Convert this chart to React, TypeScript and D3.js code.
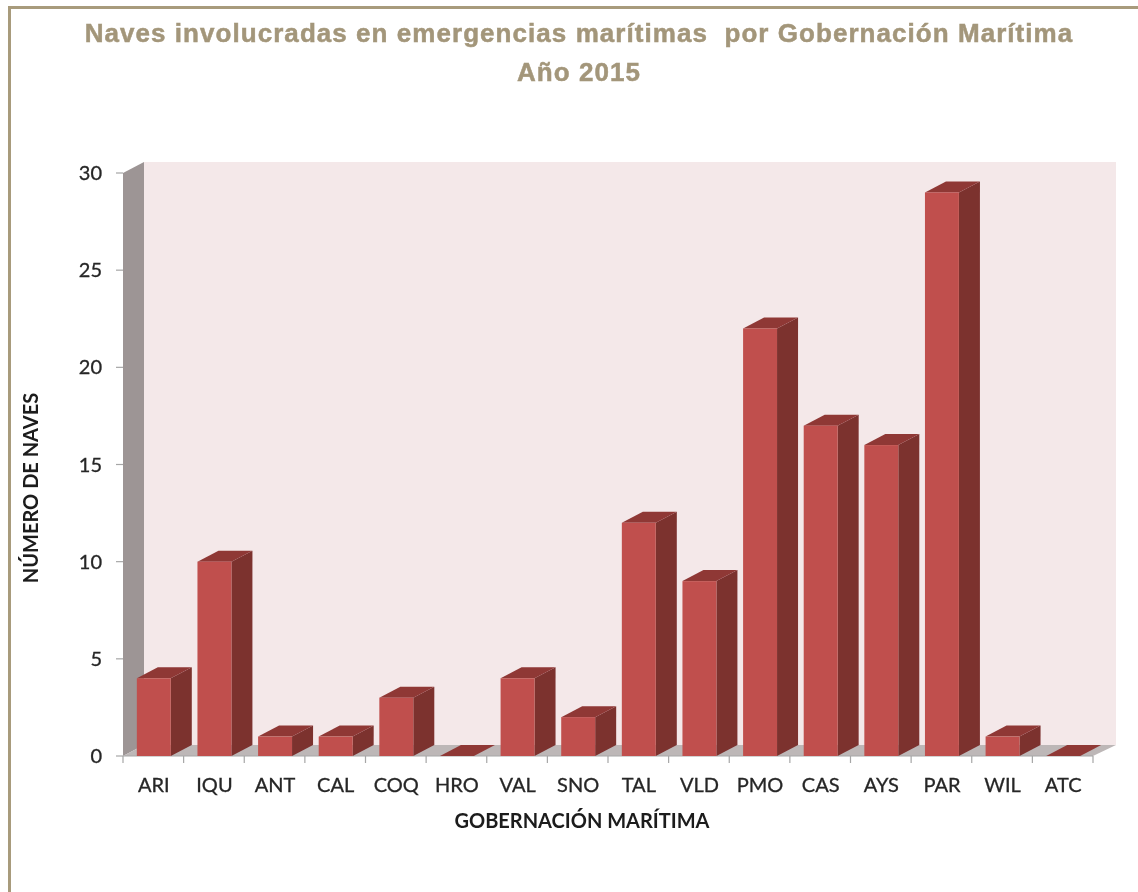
import React, { useEffect, useRef } from "react";
import * as d3 from "d3";

const categories = ["ARI", "IQU", "ANT", "CAL", "COQ", "HRO", "VAL", "SNO", "TAL", "VLD", "PMO", "CAS", "AYS", "PAR", "WIL", "ATC"];
const values = [4, 10, 1, 1, 3, 0, 4, 2, 12, 9, 22, 17, 16, 29, 1, 0];
const yTicks = [0, 5, 10, 15, 20, 25, 30];
const titleLines = ["Naves involucradas en emergencias marítimas  por Gobernación Marítima", "Año 2015"];
const xTitle = "GOBERNACIÓN MARÍTIMA";
const yTitle = "NÚMERO DE NAVES";

const W = 1138;
const H = 892;
const depthX = 21;
const depthY = 11;
const wallRight = 1116;

export default function App() {
  const ref = useRef<SVGSVGElement | null>(null);

  useEffect(() => {
    const svg = d3.select(ref.current);
    svg.selectAll("*").remove();

    const soft = svg.append("defs").append("filter").attr("id", "soft");
    soft.append("feGaussianBlur").attr("stdDeviation", 0.6);

    // page frame (open on the right and at the bottom)
    svg
      .append("path")
      .attr("d", `M${W},7.5H9.5V${H}`)
      .style("fill", "none")
      .style("stroke", "#a89b7c")
      .style("stroke-width", 3);

    // title
    svg
      .append("g")
      .attr("filter", "url(#soft)")
      .selectAll("text")
      .data(titleLines)
      .join("text")
      .attr("x", 579)
      .attr("y", (d, i) => 42 + i * 39)
      .style("font-family", "'Liberation Sans', sans-serif")
      .style("font-size", "26px")
      .style("font-weight", "bold")
      .style("letter-spacing", "1.05px")
      .style("white-space", "pre")
      .style("text-anchor", "middle")
      .style("fill", "#a3967a")
      .style("stroke", "#a3967a")
      .style("stroke-width", 0.5)
      .text((d) => d);

    const x = d3.scaleBand<string>().domain(categories).range([123, 1093]);
    const y = d3.scaleLinear().domain([0, 30]).range([756, 173]);
    const barWidth = x.bandwidth() * 0.56;
    const barOffset = (x.bandwidth() - barWidth) / 2 + 0.5;

    const chart = svg.append("g").attr("filter", "url(#soft)");

    // back wall
    chart
      .append("rect")
      .attr("x", 123 + depthX)
      .attr("y", y(30) - depthY)
      .attr("width", wallRight - 123 - depthX)
      .attr("height", y(0) - y(30))
      .style("fill", "#f4e8e9");

    // left wall
    chart
      .append("polygon")
      .attr("points", `123,${y(30)} ${123 + depthX},${y(30) - depthY} ${123 + depthX},${y(0) - depthY} 123,${y(0)}`)
      .style("fill", "#9d9595");

    // floor
    chart
      .append("polygon")
      .attr("points", `123,${y(0)} ${123 + depthX},${y(0) - depthY} ${wallRight},${y(0) - depthY} 1093,${y(0)}`)
      .style("fill", "#bdb7b7");

    // axis lines and ticks
    const axisColor = "#a6a6a6";
    chart
      .append("line")
      .attr("x1", 123)
      .attr("x2", 1093)
      .attr("y1", y(0))
      .attr("y2", y(0))
      .style("stroke", axisColor)
      .style("stroke-width", 1);
    chart
      .append("g")
      .selectAll("line")
      .data(yTicks)
      .join("line")
      .attr("x1", 116)
      .attr("x2", 123)
      .attr("y1", (d) => y(d))
      .attr("y2", (d) => y(d))
      .style("stroke", axisColor)
      .style("stroke-width", 1.2);
    chart
      .append("g")
      .selectAll("line")
      .data([...categories, "end"])
      .join("line")
      .attr("x1", (d, i) => 123 + i * x.step())
      .attr("x2", (d, i) => 123 + i * x.step())
      .attr("y1", y(0))
      .attr("y2", y(0) + 7)
      .style("stroke", axisColor)
      .style("stroke-width", 1.2);

    // 3D bars, left to right
    categories.forEach((c, i) => {
      const x0 = (x(c) as number) + barOffset;
      const x1 = x0 + barWidth;
      const top = y(values[i]);
      const base = y(0);
      const g = chart.append("g");

      g.append("polygon")
        .attr("points", `${x1},${top} ${x1 + depthX},${top - depthY} ${x1 + depthX},${base - depthY} ${x1},${base}`)
        .style("fill", "#7b302e");
      g.append("polygon")
        .attr("points", `${x0},${top} ${x0 + depthX},${top - depthY} ${x1 + depthX},${top - depthY} ${x1},${top}`)
        .style("fill", "#8f3836");
      g.append("rect")
        .attr("x", x0)
        .attr("y", top)
        .attr("width", barWidth)
        .attr("height", base - top)
        .style("fill", "#c0504d");
    });

    const labelFont = "Lato, 'Open Sans', sans-serif";

    // tick labels
    chart
      .append("g")
      .selectAll("text")
      .data(yTicks)
      .join("text")
      .attr("x", 102)
      .attr("y", (d) => y(d) + 7)
      .style("font-family", labelFont)
      .style("font-size", "20px")
      .style("text-anchor", "end")
      .style("fill", "#262626")
      .style("stroke", "#262626")
      .style("stroke-width", 0.3)
      .text((d) => d);
    chart
      .append("g")
      .selectAll("text")
      .data(categories)
      .join("text")
      .attr("x", (d) => (x(d) as number) + x.bandwidth() / 2 + 0.5)
      .attr("y", 792)
      .style("font-family", labelFont)
      .style("font-size", "20px")
      .style("text-anchor", "middle")
      .style("fill", "#262626")
      .style("stroke", "#262626")
      .style("stroke-width", 0.3)
      .text((d) => d);

    // axis titles
    chart
      .append("text")
      .attr("x", 582)
      .attr("y", 828)
      .style("font-family", labelFont)
      .style("font-size", "20px")
      .style("font-weight", "bold")
      .style("text-anchor", "middle")
      .style("fill", "#1a1a1a")
      .text(xTitle);
    chart
      .append("text")
      .attr("transform", "translate(38,488) rotate(-90)")
      .style("font-family", labelFont)
      .style("font-size", "20px")
      .style("font-weight", "bold")
      .style("text-anchor", "middle")
      .style("fill", "#1a1a1a")
      .text(yTitle);
  }, []);

  return (
    <svg
      ref={ref}
      width={W}
      height={H}
      style={{ position: "absolute", left: 0, top: 0, background: "white" }}
    />
  );
}
